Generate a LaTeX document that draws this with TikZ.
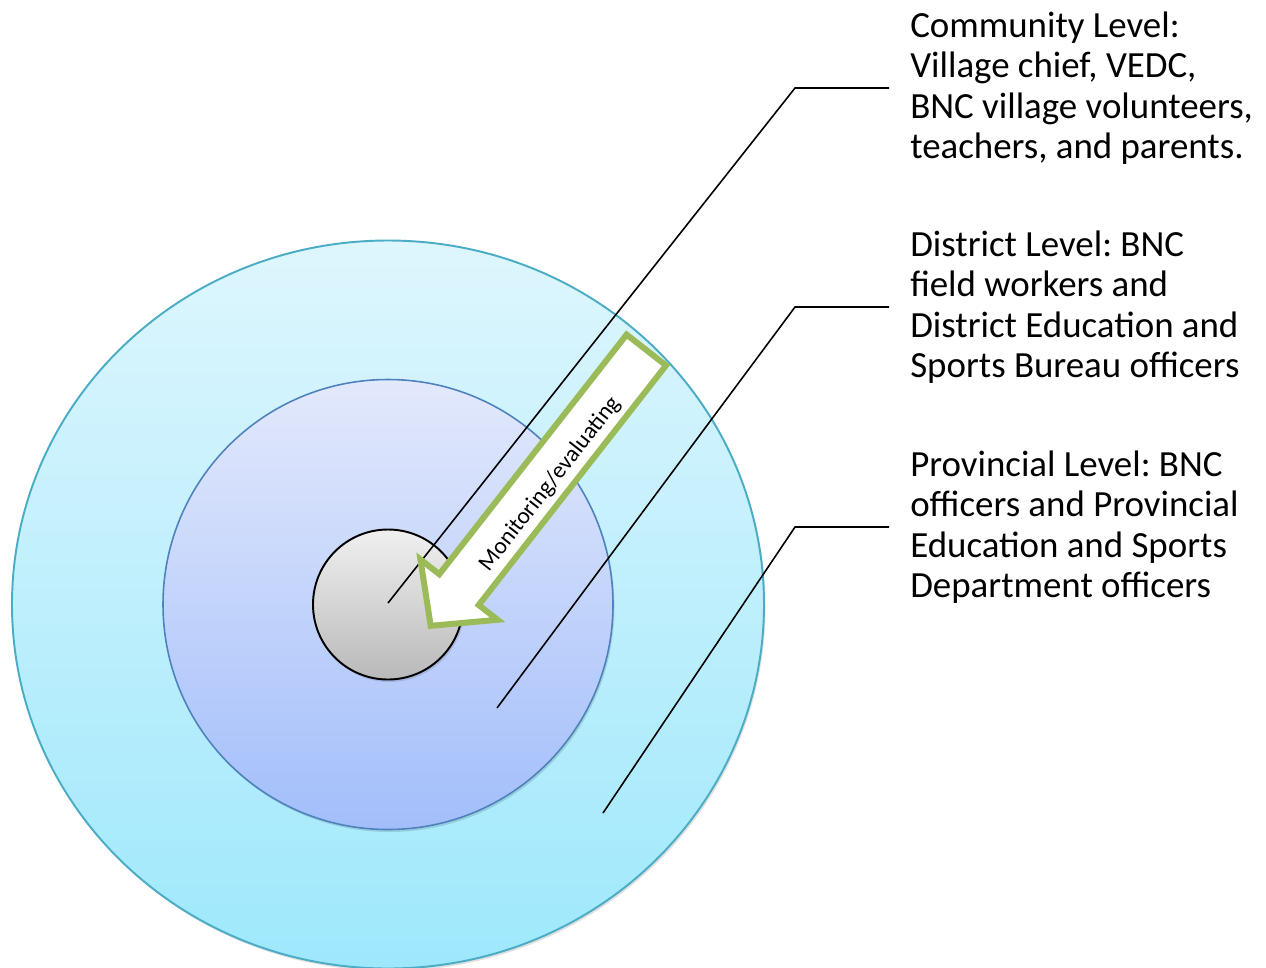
\documentclass[tikz,border=0pt]{standalone}
\usepackage{fontspec}
\setmainfont{Carlito}
\frenchspacing

\definecolor{aqualine}{RGB}{75,172,198}
\definecolor{aquatop}{RGB}{222,246,253}
\definecolor{aquabot}{RGB}{158,232,252}
\definecolor{blueline}{RGB}{79,129,189}
\definecolor{bluetop}{RGB}{227,233,252}
\definecolor{bluebot}{RGB}{162,190,250}
\definecolor{greytop}{RGB}{240,240,240}
\definecolor{greybot}{RGB}{185,185,185}
\definecolor{arrowgreen}{RGB}{155,187,89}

\begin{document}
\begin{tikzpicture}[x=0.02cm,y=-0.02cm,
    lvltext/.style={anchor=west,align=left,inner xsep=11.9pt,font=\fontsize{21}{23}\selectfont},
    leader/.style={line width=0.9pt},
    ringshadow/.style={fill=black,opacity=0.12}]
  \useasboundingbox (0,0) rectangle (1266,967);

  % the three rings
  \fill[ringshadow] (389.5,607) ellipse (376 and 364);
  \shade[draw=aqualine,line width=1.1pt,top color=aquatop,bottom color=aquabot]
    (388,604.5) ellipse (376 and 364);
  \fill[ringshadow] (389.5,607) circle (225);
  \shade[draw=blueline,line width=0.9pt,top color=bluetop,bottom color=bluebot]
    (388,604.5) circle (225);
  \fill[ringshadow] (389.5,607) circle (75);
  \shade[draw=black,line width=1.1pt,top color=greytop,bottom color=greybot]
    (388,604.5) circle (75);

  % labels
  \node[lvltext] (community) at (889,88)
    {Community Level:\\Village chief, VEDC,\\BNC village volunteers,\\teachers, and parents.};
  \node[lvltext] (district) at (889,307)
    {District Level: BNC\\field workers and\\District Education and\\Sports Bureau officers};
  \node[lvltext] (province) at (889,527)
    {Provincial Level: BNC\\officers and Provincial\\Education and Sports\\Department officers};

  % leader lines
  \coordinate (inner) at (388,603);
  \coordinate (middle) at (497,708);
  \coordinate (outer) at (603,813);
  \draw[leader] (inner) -- (795,0 |- community.west) -- (community.west);
  \draw[leader] (middle) -- (795,0 |- district.west) -- (district.west);
  \draw[leader] (outer) -- (795,0 |- province.west) -- (province.west);

  % block arrow
  \draw[arrowgreen,line width=3.4pt,line join=miter,fill=white]
    (626.6,334.6) -- (666,365.4) -- (478.7,605) -- (497.6,619.8)
    -- (430.7,625.8) -- (420.4,559.4) -- (439.3,574.2) -- cycle;
  \node[rotate=52,font=\fontsize{13.3}{16}\selectfont] (monitor) at (550,484)
    {Monitoring/evaluating};
\end{tikzpicture}
\end{document}
